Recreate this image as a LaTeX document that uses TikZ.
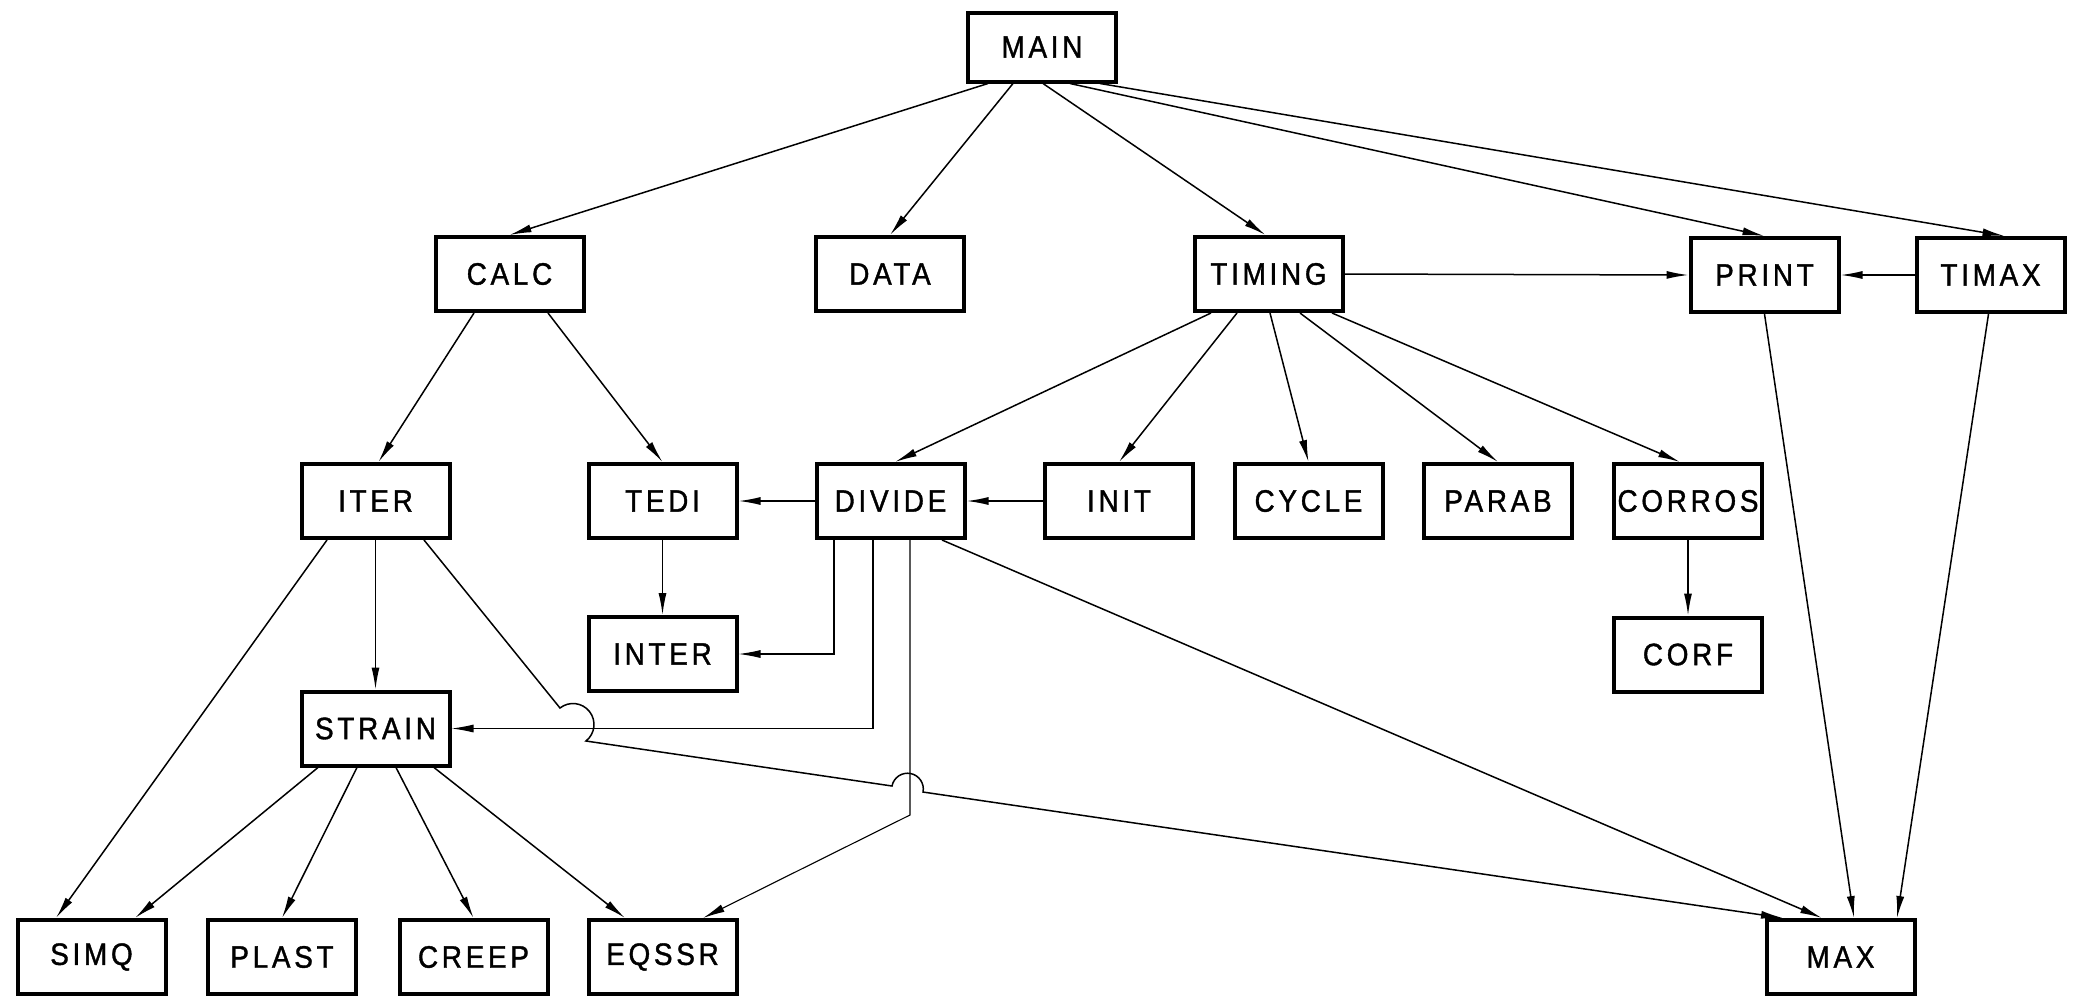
\documentclass[tikz,border=0pt]{standalone}
\usepackage{fontspec}
\newfontfamily\labfont{Liberation Sans}[LetterSpace=12,FakeStretch=0.9,FakeBold=1.2]
\usetikzlibrary{arrows.meta,calc}
\begin{document}
\begin{tikzpicture}[x=1pt,y=-1pt,
  box/.style={draw,line width=4pt,minimum width=148pt,minimum height=74pt,inner sep=0pt,
    font=\labfont\fontsize{31}{31}\selectfont},
  conn/.style={line width=1.5pt,-{Latex[length=22pt,width=8pt]}},
  thinconn/.style={conn,line width=1.1pt}]
\useasboundingbox[fill=white] (0,0) rectangle (2081,997);

% row 1
\node[box,minimum height=69pt] (MAIN) at (1042,47) {MAIN};
% row 2
\node[box] (CALC)   at (509.5,274) {CALC};
\node[box] (DATA)   at (890,274)   {DATA};
\node[box] (TIMING) at (1268.5,274) {TIMING};
\node[box] (PRINT)  at (1764.5,275) {PRINT};
\node[box] (TIMAX)  at (1990.5,275) {TIMAX};
% row 3
\node[box] (ITER)   at (375.5,501) {ITER};
\node[box] (TEDI)   at (662.5,501) {TEDI};
\node[box] (DIVIDE) at (890.5,501) {DIVIDE};
\node[box] (INIT)   at (1119,501)  {INIT};
\node[box] (CYCLE)  at (1308.5,501) {CYCLE};
\node[box] (PARAB)  at (1498,501)  {PARAB};
\node[box] (CORROS) at (1688,501)  {CORROS};
% row 4
\node[box] (INTER)  at (662.5,654) {INTER};
\node[box] (CORF)   at (1688,654.5) {CORF};
\node[box] (STRAIN) at (375.5,728.5) {STRAIN};
% row 5
\node[box] (SIMQ)   at (91.5,957)  {SIMQ};
\node[box] (PLAST)  at (282,957)   {PLAST};
\node[box] (CREEP)  at (473.5,957) {CREEP};
\node[box] (EQSSR)  at (662.5,957) {EQSSR};
\node[box] (MAX)    at (1840.5,957) {MAX};

% hop coordinates
\coordinate (hopA) at (560,708);
\coordinate (hopB) at (892,786);
\coordinate (bendE) at (910,815);

% MAIN
\draw[conn] ([xshift=-54pt]MAIN.south) -- (CALC.north);
\draw[conn] ([xshift=-29pt]MAIN.south) -- (DATA.north);
\draw[conn] ([xshift=1pt]MAIN.south) -- ([xshift=-3pt]TIMING.north);
\draw[conn] ([xshift=28pt]MAIN.south) -- (PRINT.north);
\draw[conn] ([xshift=58pt]MAIN.south) -- ([xshift=14pt]TIMAX.north);
% TIMING
\draw[conn] (TIMING.east) -- (PRINT.west);
\draw[conn] (TIMAX.west) -- (PRINT.east);
\draw[conn] ([xshift=-57.5pt]TIMING.south) -- ([xshift=4.5pt]DIVIDE.north);
\draw[conn] ([xshift=-31.5pt]TIMING.south) -- (INIT.north);
\draw[conn] ([xshift=1.5pt]TIMING.south) -- (CYCLE.north);
\draw[conn] ([xshift=31.5pt]TIMING.south) -- (PARAB.north);
\draw[conn] ([xshift=63.5pt]TIMING.south) -- ([xshift=-8pt]CORROS.north);
% PRINT, TIMAX to MAX
\draw[conn] (PRINT.south) -- ([xshift=13.5pt]MAX.north);
\draw[conn] ([xshift=-2pt]TIMAX.south) -- ([xshift=56.5pt]MAX.north);
% CALC
\draw[conn] ([xshift=-35.5pt]CALC.south) -- ([xshift=3pt]ITER.north);
\draw[conn] ([xshift=38.5pt]CALC.south) -- (TEDI.north);
% row 3 horizontals
\draw[conn] (DIVIDE.west) -- (TEDI.east);
\draw[conn] (INIT.west) -- (DIVIDE.east);
\draw[conn] (TEDI.south) -- (INTER.north);
\draw[conn] (CORROS.south) -- (CORF.north);
% DIVIDE
\draw[thinconn] ([xshift=-56.5pt]DIVIDE.south) |- (INTER.east);
\draw[thinconn] ([xshift=-17.5pt]DIVIDE.south) |- (STRAIN.east);
\draw[thinconn] ([xshift=19.5pt]DIVIDE.south) -- (bendE) -- ([xshift=40.5pt]EQSSR.north);
\draw[conn] ([xshift=51.5pt]DIVIDE.south) -- ([xshift=-18.5pt]MAX.north);
% ITER
\draw[conn] (ITER.south) -- (STRAIN.north);
\draw[conn] ([xshift=-48.5pt]ITER.south) -- ([xshift=-35.5pt]SIMQ.north);
\draw[conn] ([xshift=48.5pt]ITER.south) -- (hopA)
  arc[start angle=128.2,end angle=-51.8,radius=21pt] -- (hopB)
  arc[start angle=169,end angle=-11,radius=15.8pt] -- ([xshift=-57.5pt]MAX.north);
% STRAIN
\draw[conn] ([xshift=-57.5pt]STRAIN.south) -- ([xshift=43.5pt]SIMQ.north);
\draw[conn] ([xshift=-18.5pt]STRAIN.south) -- (PLAST.north);
\draw[conn] ([xshift=20.5pt]STRAIN.south) -- (CREEP.north);
\draw[conn] ([xshift=58.5pt]STRAIN.south) -- ([xshift=-37.5pt]EQSSR.north);
\end{tikzpicture}
\end{document}
